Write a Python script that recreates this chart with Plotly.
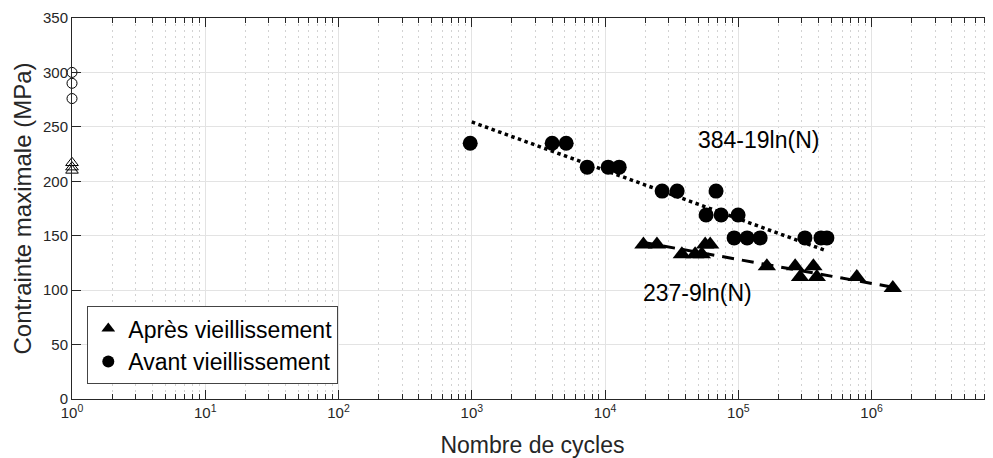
import plotly.graph_objects as go

# ---- data ----
apres_N = [19400, 24500, 56400, 61500, 37700, 47400, 53200,
           163700, 267000, 365800, 290500, 388000, 774000, 1443000]
apres_S = [142, 142, 142, 142, 133, 133, 133,
           122, 122, 122, 112, 112, 112, 102]

avant_N = [973, 4008, 5107, 7346, 10550, 12770, 26800, 34740, 68050,
           57300, 74300, 99600, 93000, 116400, 145800, 316000, 417000, 462000]
avant_S = [235, 235, 235, 213, 213, 213, 191, 191, 191,
           169, 169, 169, 148, 148, 148, 148, 148, 148]

static_circ_N = [1, 1, 1]
static_circ_S = [300, 290, 276]
static_tri_N = [1, 1, 1]
static_tri_S = [217, 213, 210]

fit_avant_N = [1000, 461000]
fit_avant_S = [254.5, 136]
fit_apres_N = [19400, 1443000]
fit_apres_S = [143.8, 102.7]

label_avant = "384-19ln(N)"
label_apres = "237-9ln(N)"

decade_vals = [1, 10, 100, 1000, 10000, 100000, 1000000]
decade_text = ["10<sup>0</sup>", "10<sup>1</sup>", "10<sup>2</sup>", "10<sup>3</sup>",
               "10<sup>4</sup>", "10<sup>5</sup>", "10<sup>6</sup>"]
minor_vals = [m * 10 ** k for k in range(0, 7) for m in range(2, 10)]

FONT = "Liberation Sans, Arial, sans-serif"
AX = "#262626"

fig = go.Figure()

fig.add_trace(go.Scatter(x=fit_avant_N, y=fit_avant_S, mode="lines",
                         line=dict(color="black", width=3.5, dash="dot"),
                         showlegend=False, hoverinfo="skip"))
fig.add_trace(go.Scatter(x=fit_apres_N, y=fit_apres_S, mode="lines",
                         line=dict(color="black", width=3, dash="12px,8px"),
                         showlegend=False, hoverinfo="skip"))

fig.add_trace(go.Scatter(x=apres_N, y=apres_S, mode="markers",
                         name="Après vieillissement",
                         marker=dict(symbol="triangle-up", size=16, color="black"),
                         cliponaxis=False))
fig.add_trace(go.Scatter(x=avant_N, y=avant_S, mode="markers",
                         name="Avant vieillissement",
                         marker=dict(symbol="circle", size=15, color="black"),
                         cliponaxis=False))

fig.add_trace(go.Scatter(x=static_circ_N, y=static_circ_S, mode="markers",
                         marker=dict(symbol="circle-open", size=10, color="black",
                                     line=dict(width=1)),
                         showlegend=False, cliponaxis=False))
fig.add_trace(go.Scatter(x=static_tri_N, y=static_tri_S, mode="markers",
                         marker=dict(symbol="triangle-up-open", size=11, color="black",
                                     line=dict(width=1)),
                         showlegend=False, cliponaxis=False))

fig.add_annotation(x=5.15, y=238, xref="x", yref="y", text=label_avant,
                   showarrow=False, font=dict(family=FONT, size=23, color="black"))
fig.add_annotation(x=4.695, y=97.5, xref="x", yref="y", text=label_apres,
                   showarrow=False, font=dict(family=FONT, size=23, color="black"))

fig.update_layout(
    width=985, height=450,
    margin=dict(l=64, r=0, t=10, b=59),
    paper_bgcolor="white", plot_bgcolor="white",
    font=dict(family=FONT, color=AX),
    legend=dict(x=0.0166, y=0.039, xanchor="left", yanchor="bottom",
                bgcolor="white", bordercolor="#444444", borderwidth=1,
                font=dict(family=FONT, size=23, color="black"),
                tracegroupgap=0, itemsizing="constant"),
)

fig.update_xaxes(
    type="log", range=[0, 6.911], automargin=False,
    tickmode="array", tickvals=decade_vals, ticktext=decade_text,
    ticks="inside", ticklen=9, tickcolor=AX, tickwidth=1,
    showline=True, linecolor=AX, linewidth=1, mirror="ticks",
    showgrid=True, gridcolor="#e3e3e3", gridwidth=1,
    tickfont=dict(family=FONT, size=15, color=AX),
    minor=dict(tickmode="array", tickvals=minor_vals, ticks="inside", ticklen=5,
               tickcolor=AX, showgrid=True, gridcolor="#d2d2d2", griddash="2px,4px",
               gridwidth=1),
    title=dict(text="Nombre de cycles", font=dict(family=FONT, size=23, color=AX),
               standoff=16),
    zeroline=False,
)
fig.update_yaxes(
    range=[0, 350], dtick=50, tick0=0, automargin=False,
    ticks="inside", ticklen=9, tickcolor=AX,
    showline=True, linecolor=AX, linewidth=1,
    showgrid=True, gridcolor="#e3e3e3", gridwidth=1,
    tickfont=dict(family=FONT, size=15, color=AX),
    title=dict(text="Contrainte maximale (MPa)", font=dict(family=FONT, size=24, color=AX),
               standoff=4),
    zeroline=False,
)

fig.write_html("out.html")
